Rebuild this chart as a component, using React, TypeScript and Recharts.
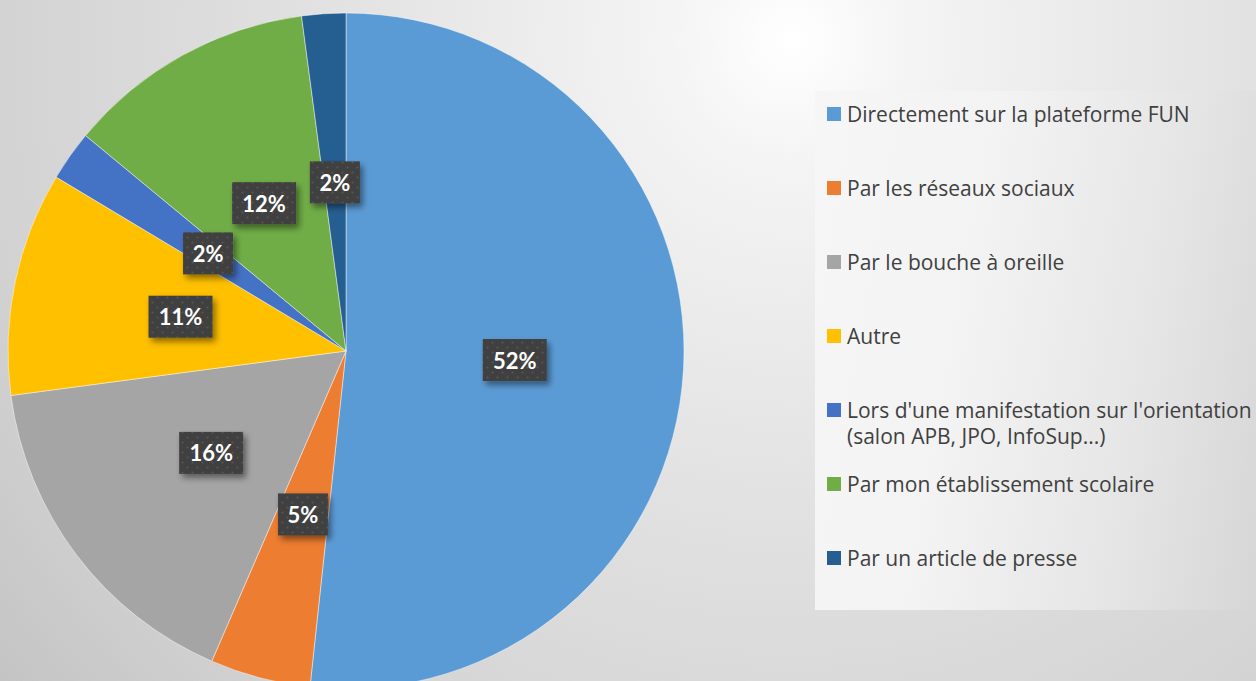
import React from 'react';
import { PieChart, Pie, Cell, Legend } from 'recharts';

const categories = [
  'Directement sur la plateforme FUN',
  'Par les réseaux sociaux',
  'Par le bouche à oreille',
  'Autre',
  "Lors d'une manifestation sur l'orientation (salon APB, JPO, InfoSup...)",
  'Par mon établissement scolaire',
  'Par un article de presse',
];
const shares = [51.7, 4.8, 16.4, 10.7, 2.4, 11.9, 2.1];
const colors = ['#5B9BD5', '#ED7D31', '#A5A5A5', '#FFC000', '#4472C4', '#70AD47', '#255E91'];

const data = categories.map((name, i) => ({ name, value: shares[i] }));

const FONT = 'Lato, "DejaVu Sans", sans-serif';
const LEGEND_FONT = '"Open Sans", Lato, sans-serif';
const RAD = Math.PI / 180;

const renderLabel = (props: any) => {
  const { cx, cy, midAngle, outerRadius, percent, index } = props;
  const r = outerRadius * 0.5;
  const x = cx + r * Math.cos(-midAngle * RAD);
  const y = cy + r * Math.sin(-midAngle * RAD);
  const text = `${Math.round(percent * 100)}%`;
  const w = 14 * text.length + 22;
  const h = 42;
  return (
    <g key={`lbl-${index}`}>
      <rect x={x - w / 2} y={y - h / 2} width={w} height={h} fill="url(#dotPattern)" filter="url(#boxShadow)" />
      <text
        x={x}
        y={y}
        textAnchor="middle"
        dominantBaseline="central"
        fill="#ffffff"
        fontFamily={FONT}
        fontWeight={700}
        fontSize={22}
      >
        {text}
      </text>
    </g>
  );
};

const renderLegend = (props: any) => {
  const payload = (props && props.payload) || [];
  const items = payload.length
    ? payload
        .map((p: any) => ({ name: p.value, color: p.color }))
        .sort((a: any, b: any) => categories.indexOf(a.name) - categories.indexOf(b.name))
    : categories.map((c, i) => ({ name: c, color: colors[i] }));
  return (
    <div style={{ position: 'relative', width: 441, height: 519, fontFamily: LEGEND_FONT }}>
      {items.map((it: any, i: number) => (
        <div key={i}>
          <div
            style={{
              position: 'absolute',
              left: 12,
              top: 16 + 74 * i,
              width: 14,
              height: 14,
              background: it.color,
            }}
          />
          <div
            style={{
              position: 'absolute',
              left: 32,
              top: 10 + 74 * i,
              width: 418,
              fontSize: 21,
              lineHeight: '26px',
              color: '#404040',
              whiteSpace: 'normal',
            }}
          >
            {it.name}
          </div>
        </div>
      ))}
    </div>
  );
};

export default function App() {
  return (
    <div
      style={{
        position: 'absolute',
        left: 0,
        top: 0,
        width: 1256,
        height: 681,
        overflow: 'hidden',
        background:
          'radial-gradient(circle at 63% 6%, #ffffff 0%, #f4f4f4 12%, #e2e2e2 45%, #d2d2d2 80%, #c4c4c4 100%)',
      }}
    >
      <svg width={0} height={0} style={{ position: 'absolute' }}>
        <defs>
          <pattern id="dotPattern" width={10} height={10} patternUnits="userSpaceOnUse">
            <rect width={10} height={10} fill="#404040" />
            <circle cx={2.5} cy={2.5} r={1.1} fill="#575757" />
            <circle cx={7.5} cy={7.5} r={1.1} fill="#575757" />
          </pattern>
          <filter id="boxShadow" x="-30%" y="-30%" width="170%" height="180%">
            <feDropShadow dx={3} dy={4} stdDeviation={3} floodColor="#000" floodOpacity={0.45} />
          </filter>
        </defs>
      </svg>
      <PieChart width={1256} height={681} margin={{ top: 0, right: 0, bottom: 0, left: 0 }}>
        <Pie
          data={data}
          dataKey="value"
          nameKey="name"
          cx={346}
          cy={351}
          outerRadius={338}
          startAngle={90}
          endAngle={-270}
          stroke="rgba(255,255,255,0.45)"
          strokeWidth={1}
          labelLine={false}
          label={renderLabel}
          legendType="square"
          isAnimationActive={false}
        >
          {data.map((d, i) => (
            <Cell key={d.name} fill={colors[i]} />
          ))}
        </Pie>
        <Legend
          layout="vertical"
          align="right"
          verticalAlign="middle"
          itemSorter={null as any}
          content={renderLegend}
          wrapperStyle={{
            left: 815,
            top: 91,
            right: 'auto',
            bottom: 'auto',
            width: 441,
            height: 519,
            background: 'linear-gradient(100deg, #f6f6f6 0%, #f3f3f3 35%, #e6e6e6 70%, #d6d6d6 100%)',
          }}
        />
      </PieChart>
    </div>
  );
}
